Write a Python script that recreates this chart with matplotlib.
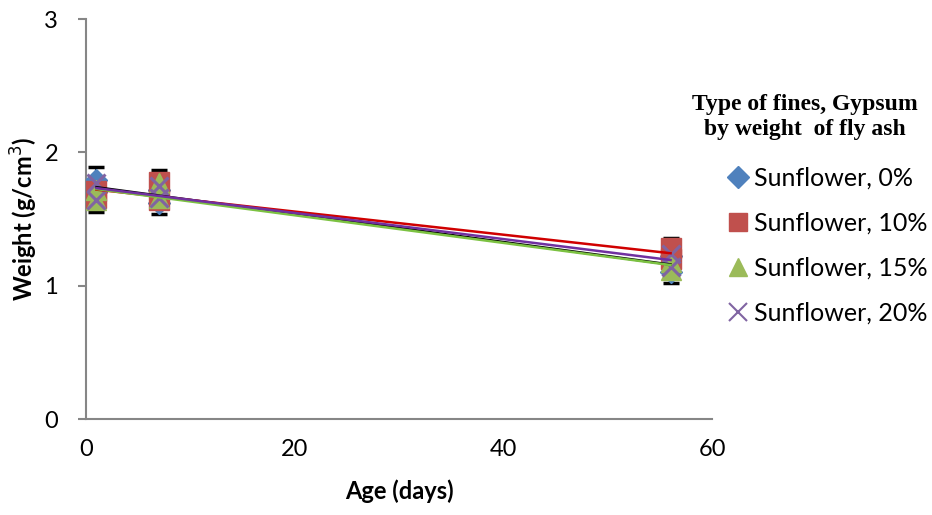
import numpy as np
import matplotlib.pyplot as plt
from matplotlib.lines import Line2D

# age in days, two replicate readings per age for each mix
ages = [1, 7, 56]
labels = ["Sunflower, 0%", "Sunflower, 10%", "Sunflower, 15%", "Sunflower, 20%"]
sf_0 = [[1.79, 1.70], [1.72, 1.62], [1.22, 1.10]]
sf_10 = [[1.71, 1.66], [1.78, 1.64], [1.28, 1.20]]
sf_15 = [[1.72, 1.64], [1.77, 1.66], [1.18, 1.12]]
sf_20 = [[1.77, 1.64], [1.75, 1.66], [1.24, 1.14]]

# error bar centre and half range (g/cm3)
err_mid = [1.72, 1.705, 1.19]
err_half = [0.17, 0.165, 0.17]

plt.rcParams['font.family'] = ['Lato', 'DejaVu Sans']

series = [sf_0, sf_10, sf_15, sf_20]
markers = ['D', 's', '^', 'x']
colors = ['#4F81BD', '#C0504D', '#9BBB59', '#8064A2']
msizes = [11, 14, 14, 13]
line_colors = ['black', '#D00000', '#7CC242', '#7030A0']

fig = plt.figure(figsize=(9.32, 5.15), dpi=100)
ax = fig.add_axes([0.0923, 0.186, 0.672, 0.777])

ax.errorbar(ages, err_mid, yerr=err_half, fmt='none', ecolor='black',
            elinewidth=1.5, capsize=6, capthick=2.5, zorder=1)

for vals, m, c, ms in zip(series, markers, colors, msizes):
    for rep in range(2):
        ys = [v[rep] for v in vals]
        if m == 'x':
            ax.plot(ages, ys, linestyle='none', marker=m, ms=ms, mec=c, mew=2.2, zorder=3)
        else:
            ax.plot(ages, ys, linestyle='none', marker=m, ms=ms, color=c, zorder=3)

# linear trendlines through all readings
xs = np.array([ages[0], ages[-1]])
for vals, lc in zip(series, line_colors):
    x_all = np.repeat(ages, 2)
    y_all = np.array(vals).ravel()
    k, b = np.polyfit(x_all, y_all, 1)
    ax.plot(xs, k * xs + b, color=lc, linewidth=1.8, zorder=4)

ax.set_xlim(0, 60)
ax.set_ylim(0, 3)
ax.set_xticks([0, 20, 40, 60])
ax.set_yticks([0, 1, 2, 3])
for s in ['top', 'right']:
    ax.spines[s].set_visible(False)
for s in ['left', 'bottom']:
    ax.spines[s].set_color('#868686')
    ax.spines[s].set_linewidth(1.5)
ax.tick_params(axis='y', direction='out', length=6, width=1.5, color='#868686',
               labelsize=17, pad=14)
ax.tick_params(axis='x', direction='out', length=0, labelsize=17, pad=14)

ax.set_xlabel("Age (days)", fontsize=17, fontweight='bold', labelpad=14)
ax.set_ylabel("Weight (g/cm$^3$)", fontsize=17, fontweight='bold', labelpad=3)

handles = []
for m, c, ms in zip(markers, colors, msizes):
    if m == 'x':
        handles.append(Line2D([], [], linestyle='none', marker=m, ms=13, mec=c, mew=1.5))
    else:
        handles.append(Line2D([], [], linestyle='none', marker=m, ms=13 if m != 'D' else 11, color=c))

fig.text(805 / 932, 1 - 117 / 515, "Type of fines, Gypsum\nby weight  of fly ash",
         ha='center', va='center', family='Liberation Serif', fontweight='bold',
         fontsize=17, linespacing=1.25)

fig.legend(handles, labels, loc='upper left', bbox_to_anchor=(728 / 932, 1 - 167 / 515),
           frameon=False, fontsize=18, handlelength=0.8, handletextpad=0.25,
           labelspacing=0.88, borderpad=0, borderaxespad=0)

fig.savefig("out.png", dpi=100)
